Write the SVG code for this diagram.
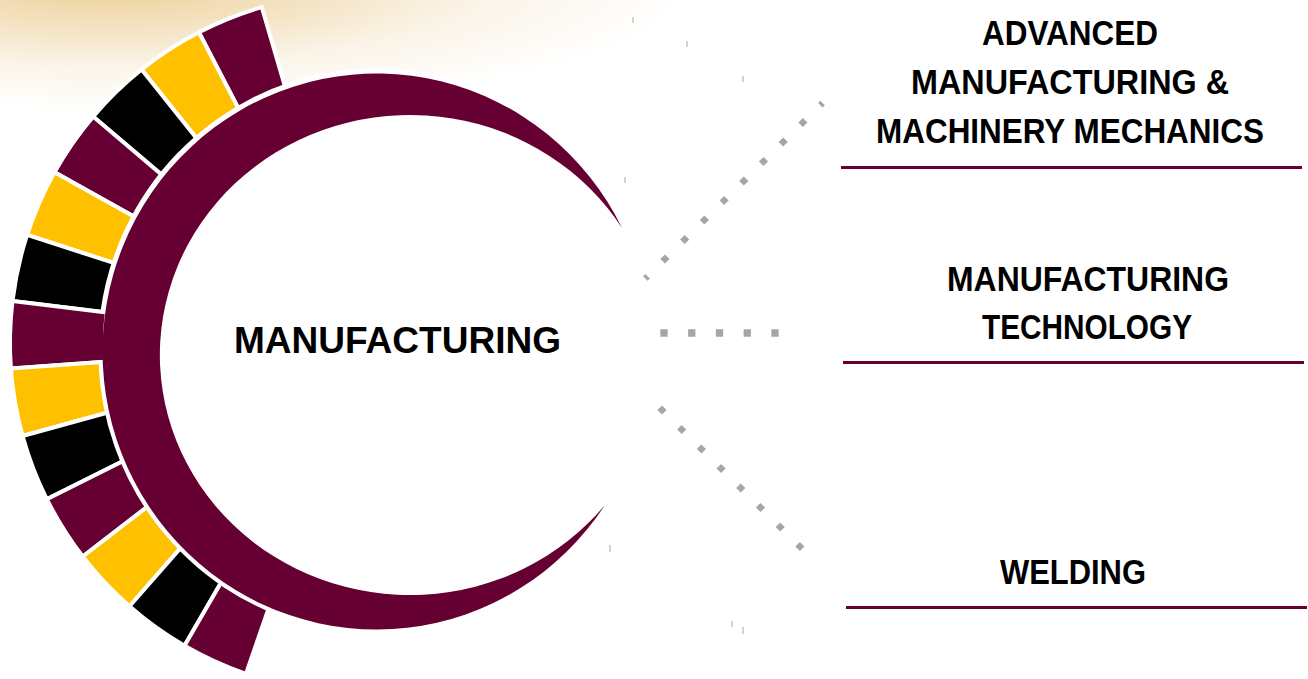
<svg xmlns="http://www.w3.org/2000/svg" width="1308" height="679" viewBox="0 0 1308 679">
  <defs>
    <radialGradient id="glow" gradientUnits="userSpaceOnUse" cx="0" cy="0" r="1" gradientTransform="translate(110,-15) scale(580,125)">
      <stop offset="0" stop-color="#ECCF98"/>
      <stop offset="0.3" stop-color="#F3E0BC"/>
      <stop offset="0.65" stop-color="#FBF4E8"/>
      <stop offset="1" stop-color="#FFFFFF"/>
    </radialGradient>
  </defs>
  <style>
    .seg { stroke: #FFFFFF; stroke-width: 4; stroke-linejoin: miter; }
    .m { fill: #660033; }
    .y { fill: #FFC000; }
    .k { fill: #000000; }
    .lbl { font-family: "Liberation Sans", Arial, sans-serif; font-weight: bold; fill: #000000; text-anchor: middle; }
    .rule { stroke: #660033; stroke-width: 3; }
    .dots { fill: none; stroke: #A6A6A6; }
    .tick { stroke: #C4C4C4; stroke-width: 1.5; }
  </style>

  <rect id="background" x="0" y="0" width="1308" height="679" fill="url(#glow)"/>

  <g id="ticks">
    <line class="tick" x1="633" y1="17" x2="633" y2="23"/>
    <line class="tick" x1="687" y1="41" x2="687" y2="47"/>
    <line class="tick" x1="743" y1="76" x2="743" y2="82"/>
    <line class="tick" x1="625" y1="177" x2="625" y2="183"/>
    <line class="tick" x1="610" y1="545" x2="610" y2="552"/>
    <line class="tick" x1="732" y1="621" x2="732" y2="627"/>
    <line class="tick" x1="743" y1="627" x2="743" y2="634"/>
  </g>

  <g id="ring">
    <path class="seg m" d="M261.8,7.1 A350,350 0 0 0 198.9,32.3 L242.6,116.6 A255,255 0 0 1 288.4,98.3 Z"/>
    <path class="seg y" d="M198.9,32.3 A350,350 0 0 0 141.6,69.5 L200.9,143.7 A255,255 0 0 1 242.6,116.6 Z"/>
    <path class="seg k" d="M141.6,69.5 A350,350 0 0 0 93.1,116.6 L165.5,178.1 A255,255 0 0 1 200.9,143.7 Z"/>
    <path class="seg m" d="M93.1,116.6 A350,350 0 0 0 54.5,172.2 L137.4,218.6 A255,255 0 0 1 165.5,178.1 Z"/>
    <path class="seg y" d="M54.5,172.2 A350,350 0 0 0 27.1,234.8 L117.5,264.2 A255,255 0 0 1 137.4,218.6 Z"/>
    <path class="seg k" d="M27.1,234.8 A350,350 0 0 0 12.5,301.0 L106.8,312.4 A255,255 0 0 1 117.5,264.2 Z"/>
    <path class="seg m" d="M12.5,301.0 A350,350 0 0 0 10.9,368.6 L105.7,361.7 A255,255 0 0 1 106.8,312.4 Z"/>
    <path class="seg y" d="M10.9,368.6 A350,350 0 0 0 22.6,436.0 L114.2,410.7 A255,255 0 0 1 105.7,361.7 Z"/>
    <path class="seg k" d="M22.6,436.0 A350,350 0 0 0 46.8,499.2 L131.8,456.8 A255,255 0 0 1 114.2,410.7 Z"/>
    <path class="seg m" d="M46.8,499.2 A350,350 0 0 0 82.7,556.5 L158.0,498.6 A255,255 0 0 1 131.8,456.8 Z"/>
    <path class="seg y" d="M82.7,556.5 A350,350 0 0 0 129.5,606.3 L192.0,534.9 A255,255 0 0 1 158.0,498.6 Z"/>
    <path class="seg k" d="M129.5,606.3 A350,350 0 0 0 184.5,645.8 L232.1,563.6 A255,255 0 0 1 192.0,534.9 Z"/>
    <path class="seg m" d="M184.5,645.8 A350,350 0 0 0 246.0,673.9 L277.0,584.1 A255,255 0 0 1 232.1,563.6 Z"/>
  </g>

  <g id="node-manufacturing">
    <path d="M622,228 A274,278 0 0 0 104.8,313 M102.9,361 A274,278 0 0 0 605,505" fill="none" stroke="#FFFFFF" stroke-width="9"/>
    <path class="m" d="M622,228 A274,278 0 1 0 605,505 A250,240 0 1 1 622,228 Z"/>
    <text class="lbl" x="397.5" y="353" font-size="36" textLength="327" lengthAdjust="spacingAndGlyphs">MANUFACTURING</text>
  </g>

  <g id="connectors">
    <line class="dots" x1="645.3" y1="278.5" x2="822.6" y2="103.0" stroke-width="6.5" stroke-dasharray="6.5 21.22" stroke-dashoffset="3.25"/>
    <line class="dots" x1="660.35" y1="333" x2="778.65" y2="333" stroke-width="7.3" stroke-dasharray="7.3 20.45"/>
    <line class="dots" x1="659.69" y1="407.71" x2="802.2" y2="548.8" stroke-width="6.5" stroke-dasharray="6.5 21.22"/>
  </g>

  <g id="node-advanced">
    <text class="lbl" x="1070" y="45" font-size="35" textLength="176" lengthAdjust="spacingAndGlyphs">ADVANCED</text>
    <text class="lbl" x="1070" y="94" font-size="35" textLength="318" lengthAdjust="spacingAndGlyphs">MANUFACTURING &amp;</text>
    <text class="lbl" x="1070" y="143" font-size="35" textLength="388" lengthAdjust="spacingAndGlyphs">MACHINERY MECHANICS</text>
    <line class="rule" x1="841" y1="167.5" x2="1302" y2="167.5"/>
  </g>

  <g id="node-technology">
    <text class="lbl" x="1088" y="291" font-size="35" textLength="282" lengthAdjust="spacingAndGlyphs">MANUFACTURING</text>
    <text class="lbl" x="1087" y="339" font-size="35" textLength="210" lengthAdjust="spacingAndGlyphs">TECHNOLOGY</text>
    <line class="rule" x1="843" y1="362.5" x2="1304" y2="362.5"/>
  </g>

  <g id="node-welding">
    <text class="lbl" x="1073" y="584" font-size="35" textLength="146" lengthAdjust="spacingAndGlyphs">WELDING</text>
    <line class="rule" x1="846" y1="607.5" x2="1307" y2="607.5"/>
  </g>
</svg>
